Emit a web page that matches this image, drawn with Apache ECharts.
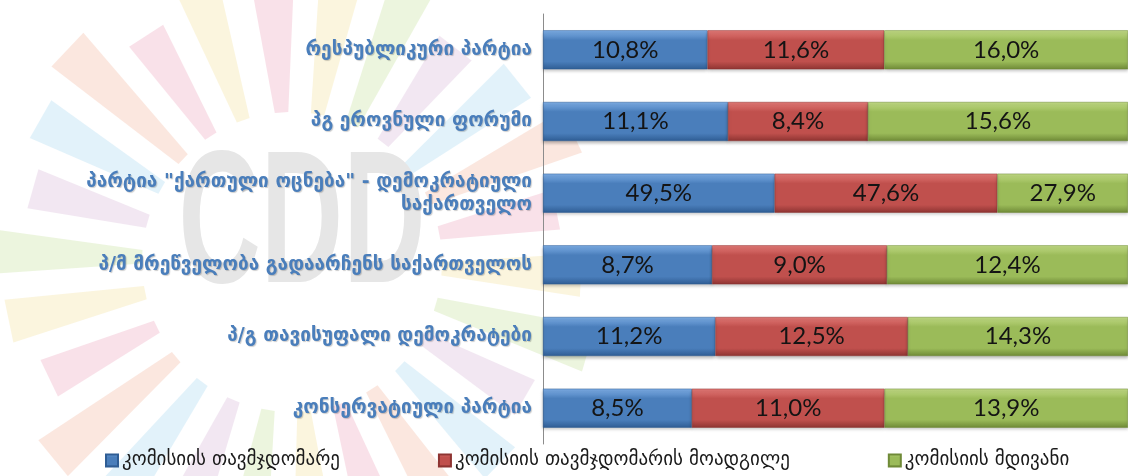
<!DOCTYPE html>
<html>
<head>
<meta charset="utf-8">
<script src="https://cdn.jsdelivr.net/npm/echarts@6/dist/echarts.min.js"></script>
<style>
  html, body { margin: 0; padding: 0; background: #fff; }
  #main { width: 1128px; height: 476px; }
</style>
</head>
<body>
<div id="main"></div>
<script>
// parties (top to bottom)
var parties = [
  'რესპუბლიკური პარტია',
  'პგ ეროვნული ფორუმი',
  'პარტია "ქართული ოცნება" - დემოკრატიული საქართველო',
  'პ/მ მრეწველობა გადაარჩენს საქართველოს',
  'პ/გ თავისუფალი დემოკრატები',
  'კონსერვატიული პარტია'
];
var seriesNames = ['კომისიის თავმჯდომარე', 'კომისიის თავმჯდომარის მოადგილე', 'კომისიის მდივანი'];
// percents as printed on the bars
var chairman  = [10.8, 11.1, 49.5, 8.7, 11.2, 8.5];
var deputy    = [11.6, 8.4, 47.6, 9.0, 12.5, 11.0];
var secretary = [16.0, 15.6, 27.9, 12.4, 14.3, 13.9];

var colors = [
  ['#7fb0e8', '#4a7ebb', '#2f5d94'],
  ['#e57b78', '#c0504d', '#8e3432'],
  ['#c3dc86', '#9bbb59', '#6f8a37']
];

var myChart = echarts.init(document.getElementById('main'));

// 100% stacked: each row is split by its own total
var raw = [chairman, deputy, secretary];
var totals = parties.map(function (p, i) { return chairman[i] + deputy[i] + secretary[i]; });

function grad(c) {
  return new echarts.graphic.LinearGradient(0, 0, 0, 1, [
    { offset: 0, color: c[0] },
    { offset: 0.25, color: c[1] },
    { offset: 0.8, color: c[1] },
    { offset: 1, color: c[2] }
  ]);
}

// faded logo in the background
var logo = [];
var rayColors = ['#f3c4d3', '#f8ecbd', '#d9ecbd', '#e5cfe6', '#c6e5f5', '#f7cfbf'];
var cx = 292, cy = 262;
for (var k = 0; k < 26; k++) {
  var a = (k * 13.8 - 4) * Math.PI / 180;
  var w = 0.075;
  var r0 = 150, r1 = 270 + (k % 3) * 20;
  logo.push({
    type: 'polygon',
    z: -10,
    silent: true,
    shape: { points: [
      [cx + r0 * Math.sin(a - w * 0.6), cy - r0 * Math.cos(a - w * 0.6)],
      [cx + r1 * Math.sin(a - w), cy - r1 * Math.cos(a - w)],
      [cx + r1 * Math.sin(a + w), cy - r1 * Math.cos(a + w)],
      [cx + r0 * Math.sin(a + w * 0.6), cy - r0 * Math.cos(a + w * 0.6)]
    ] },
    style: { fill: rayColors[k % rayColors.length], opacity: 0.5 }
  });
}
logo.push({
  type: 'text', z: -9, silent: true, x: 302, y: 230, scaleX: 0.6,
  style: {
    text: 'CDD', fill: '#e6e6e6', align: 'center', verticalAlign: 'middle',
    font: 'bold 190px "Liberation Sans"'
  }
});

var option = {
  backgroundColor: '#ffffff',
  animation: false,
  graphic: logo,
  grid: { left: 543, right: 0, top: 14, bottom: 32 },
  legend: {
    bottom: 1,
    left: 100,
    itemGap: 98,
    itemWidth: 12,
    itemHeight: 12,
    icon: 'rect',
    data: seriesNames,
    textStyle: { fontFamily: 'DejaVu Sans', fontSize: 19, color: '#1a1a1a', padding: [0, 0, 0, -1] }
  },
  xAxis: { type: 'value', min: 0, max: 100, show: false },
  yAxis: {
    type: 'category',
    inverse: true,
    data: parties,
    axisLine: { show: true, lineStyle: { color: '#8c8c8c', width: 1 } },
    axisTick: { show: false },
    axisLabel: {
      margin: 11,
      fontFamily: 'DejaVu Sans',
      fontWeight: 'bold',
      fontSize: 19,
      color: '#4a7ebb',
      lineHeight: 23,
      // the long name wraps onto a second line, as in the original
      formatter: function (v) { return v.replace('დემოკრატიული ', 'დემოკრატიული\n'); },
      textShadowColor: 'rgba(0,0,0,0.2)',
      textShadowBlur: 1,
      textShadowOffsetX: 1,
      textShadowOffsetY: 1
    }
  },
  series: raw.map(function (vals, s) {
    return {
      name: seriesNames[s],
      type: 'bar',
      stack: 'total',
      barWidth: 39,
      itemStyle: {
        color: grad(colors[s]),
        borderColor: colors[s][2],
        borderWidth: 0.5,
        shadowColor: 'rgba(0,0,0,0.25)',
        shadowBlur: 3,
        shadowOffsetY: 2
      },
      label: {
        show: true,
        position: 'inside',
        fontFamily: 'Lato',
        fontSize: 24,
        color: '#141414',
        formatter: function (p) { return vals[p.dataIndex].toFixed(1).replace('.', ',') + '%'; }
      },
      data: vals.map(function (v, i) { return v / totals[i] * 100; })
    };
  })
};
myChart.setOption(option);
</script>
</body>
</html>
